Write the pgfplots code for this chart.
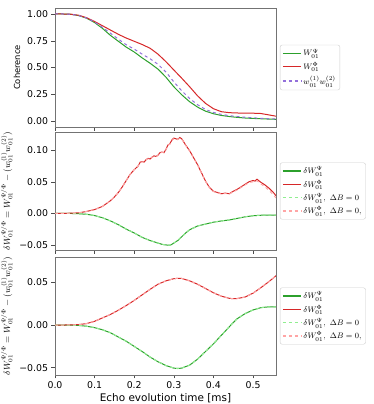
\documentclass[border=0pt]{standalone}
\usepackage{pgfplots}
\pgfplotsset{compat=1.18}
\usepackage{pgfplotstable}
\usepackage{fontspec}
\setmainfont{DejaVu Sans}
\definecolor{tgreen}{RGB}{44,160,44}
\definecolor{tred}{RGB}{214,39,40}
\definecolor{mpurple}{RGB}{147,112,219}
\definecolor{lgreen}{RGB}{144,238,144}
\definecolor{lred}{RGB}{255,165,165}

% panel 1: t, W^Psi, W^Phi, product
\pgfplotstableread{
t g r p
0.00 1.000 1.000 1.000
0.02 1.000 1.000 1.000
0.04 0.997 0.998 0.997
0.06 0.985 0.988 0.986
0.08 0.960 0.965 0.962
0.10 0.920 0.930 0.924
0.12 0.865 0.890 0.875
0.14 0.800 0.850 0.820
0.16 0.745 0.810 0.765
0.18 0.690 0.775 0.712
0.20 0.645 0.745 0.672
0.22 0.590 0.715 0.625
0.24 0.540 0.680 0.582
0.26 0.485 0.625 0.530
0.28 0.410 0.555 0.458
0.30 0.320 0.477 0.366
0.32 0.245 0.400 0.282
0.34 0.180 0.320 0.210
0.36 0.130 0.235 0.152
0.38 0.092 0.165 0.108
0.40 0.068 0.115 0.080
0.42 0.052 0.087 0.062
0.44 0.042 0.078 0.050
0.46 0.034 0.075 0.042
0.48 0.028 0.073 0.035
0.50 0.024 0.073 0.030
0.52 0.021 0.070 0.025
0.54 0.018 0.057 0.021
0.558 0.016 0.045 0.019
}\tableA

% panel 2: red delta W^Phi (solid and Delta B = 0)
\pgfplotstableread{
t r rd
0.00 0.0000 0.0000
0.02 0.0000 0.0000
0.04 0.0002 0.0002
0.06 0.0008 0.0008
0.08 0.0030 0.0030
0.10 0.0060 0.0060
0.12 0.0110 0.0110
0.14 0.0200 0.0200
0.15 0.0260 0.0260
0.16 0.0330 0.0330
0.17 0.0420 0.0420
0.18 0.0520 0.0520
0.19 0.0620 0.0620
0.20 0.0690 0.0690
0.21 0.0750 0.0750
0.215 0.0810 0.0805
0.22 0.0820 0.0815
0.225 0.0810 0.0810
0.23 0.0850 0.0845
0.235 0.0870 0.0865
0.24 0.0860 0.0860
0.245 0.0890 0.0885
0.25 0.0910 0.0905
0.255 0.0900 0.0900
0.26 0.0920 0.0915
0.265 0.0960 0.0955
0.27 0.0970 0.0965
0.275 0.0960 0.0960
0.28 0.1010 0.1005
0.285 0.1080 0.1075
0.29 0.1100 0.1095
0.295 0.1160 0.1150
0.30 0.1190 0.1180
0.305 0.1180 0.1175
0.31 0.1170 0.1165
0.315 0.1200 0.1190
0.32 0.1180 0.1175
0.325 0.1130 0.1125
0.33 0.1080 0.1075
0.34 0.0990 0.0985
0.35 0.0880 0.0875
0.36 0.0770 0.0765
0.37 0.0640 0.0635
0.38 0.0510 0.0505
0.39 0.0410 0.0405
0.40 0.0350 0.0345
0.41 0.0330 0.0325
0.42 0.0310 0.0305
0.43 0.0320 0.0315
0.44 0.0310 0.0305
0.45 0.0350 0.0340
0.46 0.0380 0.0370
0.47 0.0420 0.0410
0.48 0.0460 0.0450
0.49 0.0500 0.0485
0.50 0.0520 0.0500
0.505 0.0510 0.0500
0.51 0.0540 0.0515
0.52 0.0490 0.0465
0.53 0.0450 0.0420
0.54 0.0400 0.0365
0.55 0.0340 0.0300
0.558 0.0280 0.0245
}\tableB

% panel 2: green delta W^Psi
\pgfplotstableread{
t g
0.00 0.0000
0.04 -0.0002
0.06 -0.0006
0.08 -0.0015
0.10 -0.0035
0.12 -0.0070
0.14 -0.0120
0.16 -0.0180
0.18 -0.0250
0.20 -0.0310
0.22 -0.0380
0.24 -0.0430
0.26 -0.0470
0.27 -0.0490
0.28 -0.0500
0.29 -0.0505
0.295 -0.0490
0.30 -0.0470
0.31 -0.0430
0.32 -0.0370
0.33 -0.0310
0.34 -0.0260
0.35 -0.0230
0.36 -0.0200
0.38 -0.0170
0.40 -0.0140
0.42 -0.0120
0.44 -0.0105
0.46 -0.0080
0.48 -0.0055
0.50 -0.0038
0.52 -0.0030
0.54 -0.0028
0.558 -0.0027
}\tableC

% panel 3
\pgfplotstableread{
t r g
0.00 0.0000 0.0000
0.04 0.0002 -0.0001
0.06 0.0006 -0.0004
0.08 0.0018 -0.0013
0.10 0.0045 -0.0030
0.12 0.0085 -0.0055
0.14 0.0125 -0.0090
0.16 0.0175 -0.0140
0.18 0.0230 -0.0190
0.20 0.0290 -0.0250
0.22 0.0355 -0.0310
0.24 0.0420 -0.0375
0.26 0.0480 -0.0430
0.28 0.0520 -0.0475
0.30 0.0545 -0.0505
0.31 0.0550 -0.0510
0.32 0.0548 -0.0505
0.34 0.0520 -0.0470
0.36 0.0480 -0.0400
0.38 0.0430 -0.0310
0.40 0.0380 -0.0220
0.42 0.0340 -0.0120
0.44 0.0315 -0.0020
0.45 0.0310 0.0030
0.46 0.0312 0.0075
0.48 0.0330 0.0135
0.50 0.0375 0.0178
0.52 0.0440 0.0205
0.54 0.0510 0.0215
0.558 0.0580 0.0215
}\tableD

\pgfplotsset{
 panel/.style={
  scale only axis, width=221bp, height=118bp,
  xmin=0, xmax=0.558,
  xtick={0,0.1,0.2,0.3,0.4,0.5},
  scaled y ticks=false, scaled x ticks=false,
  tick align=outside, tick pos=left,
  major tick length=3.5bp,
  axis line style={black!55},
  every tick/.style={black!70},
  tick label style={font=\fontsize{9.4}{11}\selectfont},
  legend style={at={(1.018,0.5)}, anchor=west, draw=black!20, rounded corners=2pt,
    font=\fontsize{8.5}{10}\selectfont, inner sep=2pt, row sep=1pt},
  legend cell align=left,
  legend image code/.code={\draw[#1, line width=1.3bp] (0bp,0bp) -- (18bp,0bp);},
  ylabel style={font=\fontsize{8.4}{10}\selectfont},
  every axis plot/.append style={line width=1bp},
 },
}

\begin{document}
\begin{tikzpicture}
\useasboundingbox (0,0) rectangle (374bp,-404bp);

\begin{axis}[panel, at={(55bp,-8bp)}, anchor=north west, height=119bp,
  ymin=-0.056, ymax=1.056,
  ytick={0,0.25,0.5,0.75,1}, yticklabels={0.00,0.25,0.50,0.75,1.00},
  xticklabels={},
  ylabel={Coherence}]
\addplot[color=tgreen, no marks] table[x=t,y=g] {\tableA};
\addlegendentry{$W_{01}^{\Psi}$}
\addplot[color=tred, no marks] table[x=t,y=r] {\tableA};
\addlegendentry{$W_{01}^{\Phi}$}
\addplot[color=mpurple, no marks, dashed] table[x=t,y=p] {\tableA};
\addlegendentry{$w_{01}^{(1)}w_{01}^{(2)}$}
\end{axis}

\begin{axis}[panel, at={(55bp,-132bp)}, anchor=north west,
  ymin=-0.058, ymax=0.1287,
  ytick={-0.05,0,0.05,0.1}, yticklabels={−0.05,0.00,0.05,0.10},
  xticklabels={},
  ylabel style={font=\fontsize{9}{10}\selectfont},
  ylabel={$\delta W_{01}^{\Psi/\Phi} = W_{01}^{\Psi/\Phi} - (w_{01}^{(1)}w_{01}^{(2)})$}]
\addplot[color=tgreen, no marks] table[x=t,y=g] {\tableC};
\addlegendentry{$\delta W_{01}^{\Psi}$}
\addplot[color=tred, no marks] table[x=t,y=r] {\tableB};
\addlegendentry{$\delta W_{01}^{\Phi}$}
\addplot[color=lgreen, no marks, dashed] table[x=t,y=g] {\tableC};
\addlegendentry{$\delta W_{01}^{\Psi},\ \Delta B=0$}
\addplot[color=lred, no marks, dashed] table[x=t,y=rd] {\tableB};
\addlegendentry{$\delta W_{01}^{\Phi},\ \Delta B=0,$}
\end{axis}

\begin{axis}[panel, at={(55bp,-257bp)}, anchor=north west,
  ymin=-0.0586, ymax=0.080,
  ytick={-0.05,0,0.05}, yticklabels={−0.05,0.00,0.05},
  xticklabels={0.0,0.1,0.2,0.3,0.4,0.5},
  xlabel={Echo evolution time [ms]},
  xlabel style={font=\fontsize{10.5}{12}\selectfont, yshift=2bp},
  ylabel style={font=\fontsize{9}{10}\selectfont},
  ylabel={$\delta W_{01}^{\Psi/\Phi} = W_{01}^{\Psi/\Phi} - (w_{01}^{(1)}w_{01}^{(2)})$}]
\addplot[color=tgreen, no marks] table[x=t,y=g] {\tableD};
\addlegendentry{$\delta W_{01}^{\Psi}$}
\addplot[color=tred, no marks] table[x=t,y=r] {\tableD};
\addlegendentry{$\delta W_{01}^{\Phi}$}
\addplot[color=lgreen, no marks, dashed] table[x=t,y=g] {\tableD};
\addlegendentry{$\delta W_{01}^{\Psi},\ \Delta B=0$}
\addplot[color=lred, no marks, dashed] table[x=t,y=r] {\tableD};
\addlegendentry{$\delta W_{01}^{\Phi},\ \Delta B=0,$}
\end{axis}
\end{tikzpicture}
\end{document}
